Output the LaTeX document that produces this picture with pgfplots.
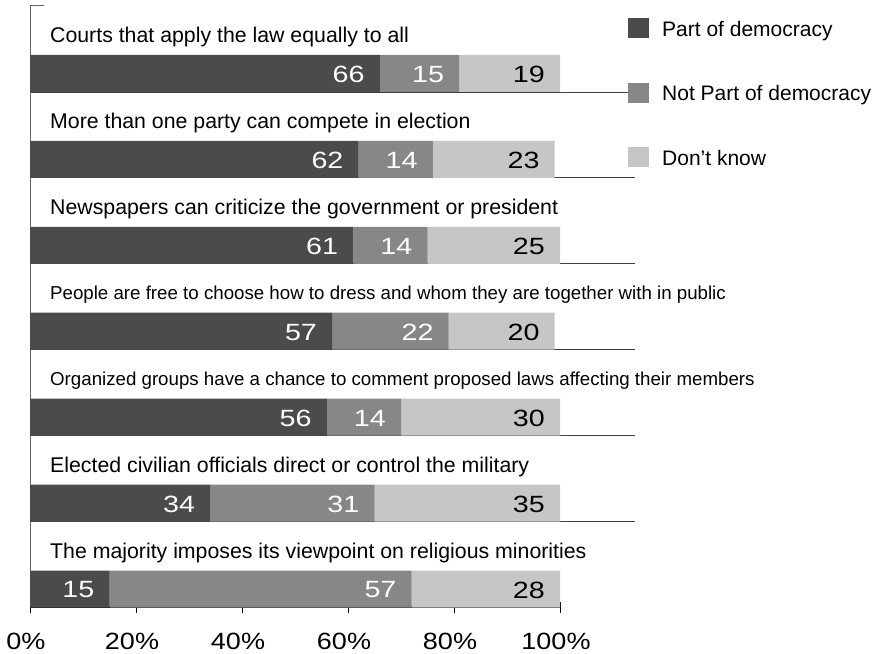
\documentclass[border=0pt]{standalone}
\usepackage{fontspec}
\setmainfont{Liberation Sans}
\newfontfamily\numfont[FakeStretch=1.15]{Liberation Sans}
\newfontfamily\valfont[FakeStretch=1.22]{Liberation Sans}
\usepackage{pgfplots}
\pgfplotsset{compat=1.18}
\definecolor{cA}{HTML}{4B4B4B}
\definecolor{cB}{HTML}{878787}
\definecolor{cC}{HTML}{C6C6C6}
\definecolor{sepcol}{HTML}{404040}
\pgfplotsset{
  sqlegend/.style={legend image code/.code={\fill[##1] (0pt,-9pt) rectangle (21pt,11pt);}},
}
\tikzset{catlab/.style={anchor=base west, inner sep=0pt, font=\fontsize{21.3}{25}\selectfont},
         catlabs/.style={anchor=base west, inner sep=0pt, font=\fontsize{18.7}{22}\selectfont}}
\begin{document}
\begin{tikzpicture}
\useasboundingbox (0,0) rectangle (877pt,653pt);
\begin{axis}[
  at={(30pt,46pt)}, anchor=south west,
  scale only axis, width=530pt, height=602pt,
  xbar stacked, bar width=37pt,
  xmin=0, xmax=100, ymin=-0.2095, ymax=6.797,
  axis x line*=bottom, axis y line*=left,
  x axis line style={black, line width=1.3pt, -},
  y axis line style={black!60, line width=0.8pt, -},
  xtick={0,20,40,60,80,100},
  xticklabels={0\%,20\%,40\%,60\%,80\%,100\%},
  xticklabel style={font=\numfont\fontsize{23.5}{28}\selectfont, inner sep=0pt, yshift=-20pt, xshift=-4pt},
  ytick=\empty,
  tick align=center, major tick length=11pt,
  x tick style={black, line width=1pt},
  clip=false,
  point meta=explicit symbolic,
  nodes near coords={\pgfplotspointmeta},
  every node near coord/.append style={anchor=east, inner sep=0pt, xshift={\pgfplotspointmeta*2.65pt-15pt}, yshift=-1pt, font=\valfont\fontsize{23.5}{28}\selectfont},
  legend cell align=left,
  sqlegend,
  legend style={draw=none, fill=none, at={(1.1283,0.9784)}, anchor=north west,
    inner sep=0pt, row sep=44.5pt, column sep=13pt,
    font=\fontsize{21}{25}\selectfont, nodes={inner sep=0pt}},
]
\addplot[fill=cA, draw=none, every node near coord/.append style={text=white}] coordinates
  {(15,0)[15] (34,1)[34] (56,2)[56] (57,3)[57] (61,4)[61] (62,5)[62] (66,6)[66]};
\addlegendentry{Part of democracy}
\addplot[fill=cB, draw=none, every node near coord/.append style={text=white}] coordinates
  {(57,0)[57] (31,1)[31] (14,2)[14] (22,3)[22] (14,4)[14] (14,5)[14] (15,6)[15]};
\addlegendentry{Not Part of democracy}
\addplot[fill=cC, draw=none, every node near coord/.append style={text=black}] coordinates
  {(28,0)[28] (35,1)[35] (30,2)[30] (20,3)[20] (25,4)[25] (23,5)[23] (19,6)[19]};
\addlegendentry{Don’t know}
\draw[sepcol, line width=0.9pt] (axis cs:0,5.7847) -- (axis cs:112.8,5.7847);
\draw[sepcol, line width=0.9pt] (axis cs:0,4.7847) -- (axis cs:114.2,4.7847);
\draw[sepcol, line width=0.9pt] (axis cs:0,3.7847) -- (axis cs:114.2,3.7847);
\draw[sepcol, line width=0.9pt] (axis cs:0,2.7847) -- (axis cs:114.2,2.7847);
\draw[sepcol, line width=0.9pt] (axis cs:0,1.7847) -- (axis cs:114.2,1.7847);
\draw[sepcol, line width=0.9pt] (axis cs:0,0.7847) -- (axis cs:114.2,0.7847);
\draw[black!60, line width=0.8pt] (axis cs:0,6.797) -- (axis cs:2.64,6.797);
\draw[black!60, line width=0.8pt] (axis cs:0,-0.186) -- (axis cs:2.64,-0.186);
\node[catlab] at (axis cs:3.77,6.355) {Courts that apply the law equally to all};
\node[catlab] at (axis cs:3.77,5.355) {More than one party can compete in election};
\node[catlab] at (axis cs:3.77,4.355) {Newspapers can criticize the government or president};
\node[catlabs] at (axis cs:3.77,3.367) {People are free to choose how to dress and whom they are together with in public};
\node[catlabs] at (axis cs:3.77,2.367) {Organized groups have a chance to comment proposed laws affecting their members};
\node[catlab] at (axis cs:3.77,1.355) {Elected civilian officials direct or control the military};
\node[catlab] at (axis cs:3.77,0.355) {The majority imposes its viewpoint on religious minorities};
\end{axis}
\end{tikzpicture}
\end{document}
